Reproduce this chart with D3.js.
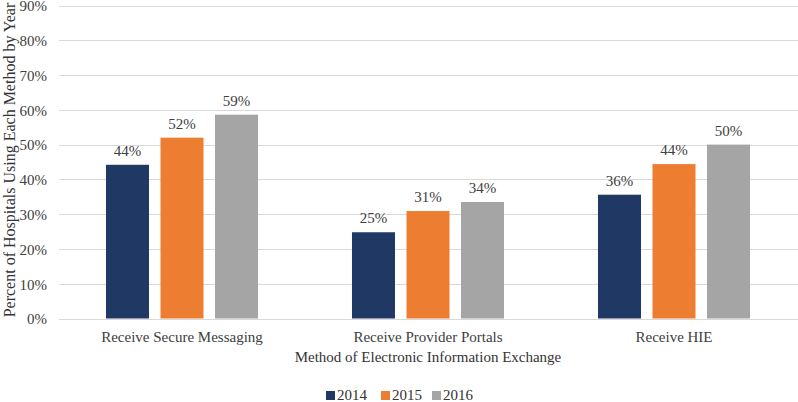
<!DOCTYPE html>
<meta charset="utf-8">
<style>
body { margin: 0; background: #fff; }
text { font-family: "Liberation Serif", "Times New Roman", serif; fill: #404040; }
.grid line { stroke: #d9d9d9; stroke-width: 1px; shape-rendering: crispEdges; }
</style>
<body>
<div id="chart"></div>
</body>
<script src="https://d3js.org/d3.v7.min.js"></script>
<script>

var categories = ["Receive Secure Messaging", "Receive Provider Portals", "Receive HIE"];
var years = ["2014", "2015", "2016"];
var v2014 = [0.442, 0.248, 0.356];
var v2015 = [0.520, 0.309, 0.444];
var v2016 = [0.586, 0.335, 0.500];
var labels2014 = ["44%", "25%", "36%"];
var labels2015 = ["52%", "31%", "44%"];
var labels2016 = ["59%", "34%", "50%"];
var yTicks = [0, 0.1, 0.2, 0.3, 0.4, 0.5, 0.6, 0.7, 0.8, 0.9];

var W = 798, H = 402;
var colors = d3.scaleOrdinal().domain(years).range(["#203864", "#ed7d31", "#a5a5a5"]);

var series = [v2014, v2015, v2016];
var seriesLabels = [labels2014, labels2015, labels2016];

var svg = d3.select("#chart").append("svg")
    .attr("width", W)
    .attr("height", H);

var x0 = d3.scaleBand().domain(categories).range([59, 797]);
var x1 = d3.scaleBand().domain(years).range([0, x0.bandwidth()])
    .paddingInner(0.211).paddingOuter(0.862);
var y = d3.scaleLinear().domain([0, 0.9]).range([318.5, 5.5]);

// gridlines
svg.append("g")
    .attr("class", "grid")
  .selectAll("line")
  .data(yTicks)
  .enter().append("line")
    .attr("x1", 59)
    .attr("x2", 798)
    .attr("y1", function(d) { return Math.round(y(d)) + 0.5; })
    .attr("y2", function(d) { return Math.round(y(d)) + 0.5; });

// y axis labels
var yAxis = d3.axisLeft(y).tickValues(yTicks).tickSize(0).tickPadding(12)
    .tickFormat(d3.format(".0%"));
svg.append("g")
    .attr("transform", "translate(59,0.5)")
    .call(yAxis)
    .call(function(g) { g.select(".domain").remove(); })
    .selectAll("text")
    .style("font-size", "15px")
    .attr("fill", "#404040");

// bars
var rows = [];
categories.forEach(function(c, i) {
  years.forEach(function(yr, j) {
    rows.push({cat: c, year: yr, value: series[j][i], label: seriesLabels[j][i]});
  });
});

svg.append("g").selectAll("rect")
  .data(rows)
  .enter().append("rect")
    .attr("x", function(d) { return x0(d.cat) + x1(d.year); })
    .attr("width", x1.bandwidth())
    .attr("y", function(d) { return y(d.value); })
    .attr("height", function(d) { return y(0) - y(d.value); })
    .attr("fill", function(d) { return colors(d.year); });

svg.append("g").selectAll("text")
  .data(rows)
  .enter().append("text")
    .attr("x", function(d) { return x0(d.cat) + x1(d.year) + x1.bandwidth() / 2; })
    .attr("y", function(d) { return y(d.value) - 9; })
    .attr("text-anchor", "middle")
    .style("font-size", "15px")
    .text(function(d) { return d.label; });

// category labels
var xAxis = d3.axisBottom(x0).tickSize(0).tickPadding(13);
svg.append("g")
    .attr("transform", "translate(0,318.5)")
    .call(xAxis)
    .call(function(g) { g.select(".domain").remove(); })
    .selectAll("text")
    .style("font-size", "15px")
    .attr("fill", "#333");

// axis titles
svg.append("text")
    .attr("x", 428)
    .attr("y", 362)
    .attr("text-anchor", "middle")
    .style("font-size", "15px")
    .style("fill", "#333")
    .text("Method of Electronic Information Exchange");

svg.append("text")
    .attr("transform", "translate(15,160) rotate(-90)")
    .attr("text-anchor", "middle")
    .style("font-size", "16px")
    .style("fill", "#333")
    .text("Percent of Hospitals Using Each Method by Year");

// legend
var legendX = [326, 381, 432];
var legend = svg.append("g").selectAll("g")
  .data(years)
  .enter().append("g")
    .attr("transform", function(d, i) { return "translate(" + legendX[i] + ",395)"; });
legend.append("rect")
    .attr("x", 0)
    .attr("y", -4)
    .attr("width", 9)
    .attr("height", 9)
    .attr("fill", function(d) { return colors(d); });
legend.append("text")
    .attr("x", 11)
    .attr("y", 5)
    .style("font-size", "15px")
    .style("fill", "#333")
    .text(function(d) { return d; });

</script>
